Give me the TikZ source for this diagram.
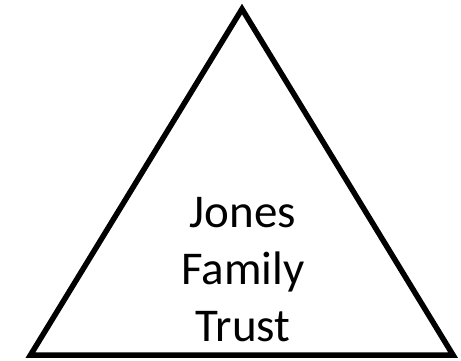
\documentclass[tikz,border=0pt]{standalone}
\usepackage{fontspec}
\setmainfont{Carlito}
\usepackage{tikz}
\usetikzlibrary{positioning}

\begin{document}
\begin{tikzpicture}[
    x=1pt, y=-1pt,
    edge/.style={draw=black, line width=5.5pt, line join=miter},
    label/.style={align=center, inner sep=0pt, font=\fontsize{47}{57}\selectfont}
]
    \useasboundingbox (0,0) rectangle (461,360);

    % Corners
    \coordinate (apex) at (242,9);
    \coordinate (right) at (453,355);
    \coordinate (left) at (30.5,355);

    % Triangle
    \draw[edge] (apex) -- (right) -- (left) -- cycle;

    % Name
    \node[label] (trust) at (243,270) {Jones\\Family\\Trust};
\end{tikzpicture}
\end{document}
